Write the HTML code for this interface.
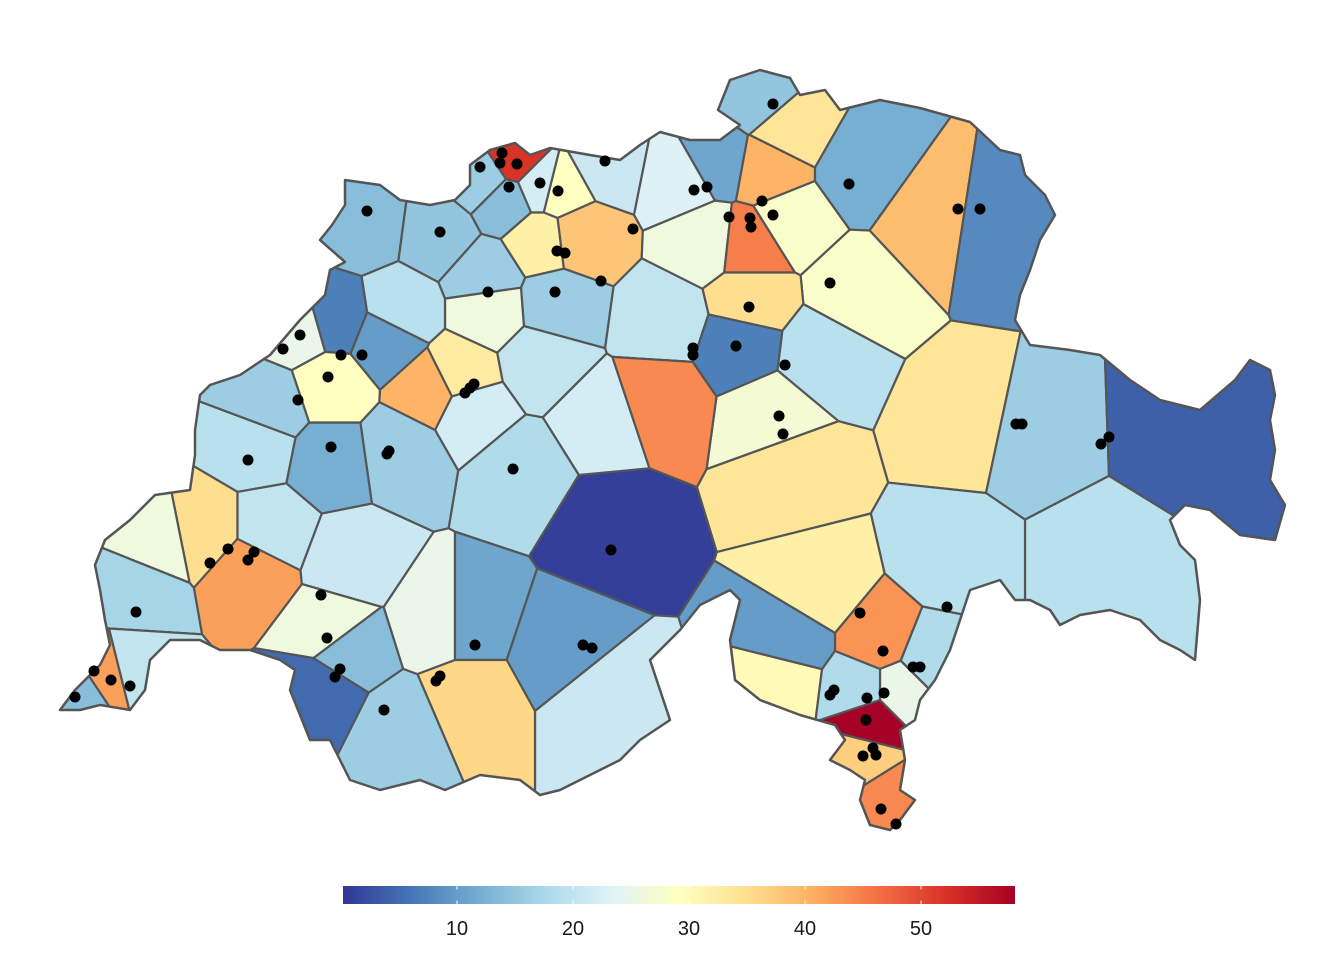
<!DOCTYPE html>
<html><head><meta charset="utf-8"><style>
body{margin:0;background:#fff;width:1344px;height:960px;overflow:hidden}
svg{display:block;font-family:"Liberation Sans",Arial,sans-serif}
</style></head><body>
<svg id="chart" width="1344" height="960">
<defs>
<linearGradient id="cbgrad" x1="0" x2="1" y1="0" y2="0">
<stop offset="0" stop-color="#313695"/><stop offset="0.1" stop-color="#4575b4"/><stop offset="0.2" stop-color="#74add1"/><stop offset="0.3" stop-color="#abd9e9"/><stop offset="0.4" stop-color="#e0f3f8"/><stop offset="0.5" stop-color="#ffffbf"/><stop offset="0.6" stop-color="#fee090"/><stop offset="0.7" stop-color="#fdae61"/><stop offset="0.8" stop-color="#f46d43"/><stop offset="0.9" stop-color="#d73027"/><stop offset="1" stop-color="#a50026"/>
</linearGradient>
<clipPath id="chclip"><polygon id="outlinePts"/></clipPath>
</defs>
<g id="cells" clip-path="url(#chclip)"></g>
<polygon id="outline" fill="none" stroke="#555" stroke-width="2.5" stroke-linejoin="round"/>
<g id="dots"></g>
<g id="colorbar"></g>
</svg>
<script>
// cell seeds (x, y) and values
const cellX=[365,440,485,505,485,515,540,560,540,580,555,490,400,605,680,715,705,770,750,790,790,760,860,930,995,855,750,665,740,820,770,660,790,965,1035,1180,1100,950,820,880,790,780,930,870,860,885,900,860,610,600,520,540,470,430,460,400,330,385,335,330,300,255,270,205,250,155,135,270,350,330,320,345,400,440,470,560,600,470,80,110,130];
const cellY=[225,235,275,200,180,160,185,190,240,235,305,310,310,165,180,160,240,170,245,220,130,95,170,220,230,290,300,320,345,355,415,400,470,420,435,430,560,560,590,640,640,680,660,720,760,800,690,690,525,420,470,360,410,390,375,450,460,340,320,385,330,445,405,530,570,540,590,530,560,630,690,650,730,620,620,650,700,700,695,675,670];
const cellVal=[14,15,16,14,16,52,22,29,32,38,16,26,19,21,23,11,26,40,45,28,34,15,12,39,8,28,35,20,7,19,27,44,34,34,16,4,19,19,32,43,10,30,18,58,37,44,25,18,1,22,18,20,22,40,33,16,12,10,7,29,25,19,16,35,42,26,17,20,21,26,5,14,16,25,11,10,21,36,14,42,20];
// observation points
const ptX=[367,440,488,509,480,502,500,517,540,558,605,633,557,565,555,601,694,707,729,750,751,762,773,773,849,958,980,830,749,785,736,693,693,779,783,1016,1022,1101,1109,947,860,883,913,920,834,830,867,884,866,873,876,863,881,896,611,583,592,513,465,470,474,389,387,331,298,328,341,362,300,283,248,210,228,254,248,136,321,327,340,335,384,475,440,436,75,94,111,130];
const ptY=[211,232,292,187,167,153,163,164,183,191,161,229,251,253,292,281,190,187,217,218,227,201,215,104,184,209,209,283,307,365,346,348,355,416,434,424,424,444,437,607,613,651,667,667,690,695,698,693,720,748,755,756,809,824,550,645,648,469,393,388,384,451,454,447,400,377,355,355,335,349,460,563,549,552,560,612,595,638,669,677,710,645,676,681,697,671,680,686];
const outline=[[60,710],[75,690],[100,665],[110,645],[105,620],[100,590],[95,565],[105,540],[130,520],[155,495],[190,490],[195,455],[195,430],[200,395],[210,385],[240,375],[270,355],[300,320],[325,295],[330,270],[345,262],[320,240],[332,225],[345,205],[345,180],[380,185],[400,200],[430,205],[455,200],[470,185],[470,165],[490,150],[515,143],[530,155],[550,148],[590,155],[620,160],[640,145],[660,132],[690,140],[720,140],[740,125],[718,110],[730,80],[760,70],[790,78],[800,95],[825,90],[840,110],[880,100],[920,108],[970,122],[1000,150],[1020,155],[1025,175],[1045,195],[1055,215],[1040,240],[1030,270],[1020,295],[1015,320],[1030,345],[1070,350],[1100,355],[1130,380],[1160,400],[1200,410],[1235,380],[1250,360],[1270,370],[1275,395],[1270,420],[1275,450],[1270,480],[1285,505],[1275,540],[1240,535],[1210,510],[1185,505],[1170,520],[1180,545],[1195,560],[1200,600],[1195,660],[1180,650],[1160,640],[1140,620],[1110,610],[1080,615],[1060,625],[1050,610],[1030,600],[1015,600],[1000,580],[970,590],[960,620],[950,650],[935,680],[920,700],[915,720],[900,730],[905,760],[900,790],[915,800],[900,820],[890,830],[870,825],[860,800],[865,780],[850,770],[830,760],[845,740],[835,725],[800,715],[760,700],[735,680],[730,640],[740,600],[730,590],[700,605],[680,630],[650,660],[660,690],[670,720],[640,740],[620,760],[590,775],[560,790],[540,795],[520,780],[480,775],[445,790],[420,780],[380,790],[350,780],[340,760],[330,740],[310,740],[300,715],[290,690],[295,670],[280,660],[250,650],[220,650],[200,640],[170,640],[150,660],[145,690],[130,710],[100,705],[80,710]];
const ticks=[10,20,30,40,50];
const vMin=0.17,vMax=58.1;
const cbX0=343,cbX1=1015,cbY=886,cbH=18;
const NS="http://www.w3.org/2000/svg";
const stops=["#313695","#4575b4","#74add1","#abd9e9","#e0f3f8","#ffffbf","#fee090","#fdae61","#f46d43","#d73027","#a50026"];
function hex(c){return [1,3,5].map(i=>parseInt(c.substr(i,2),16));}
function color(v){let t=Math.max(0,Math.min(1,(v-vMin)/(vMax-vMin)))*10;let i=Math.min(9,Math.floor(t)),f=t-i;let a=hex(stops[i]),b=hex(stops[i+1]);return "rgb("+a.map((x,k)=>Math.round(x+(b[k]-x)*f)).join(",")+")";}
function xScale(v){return cbX0+(v-vMin)/(vMax-vMin)*(cbX1-cbX0);}
const ptsStr=outline.map(p=>p.join(",")).join(" ");
document.getElementById("outlinePts").setAttribute("points",ptsStr);
document.getElementById("outline").setAttribute("points",ptsStr);
function clip(poly,ax,ay,bx,by){ // keep points closer to a than b
  const mx=(ax+bx)/2,my=(ay+by)/2,nx=bx-ax,ny=by-ay;
  const f=p=>(p[0]-mx)*nx+(p[1]-my)*ny;
  const out=[];
  for(let i=0;i<poly.length;i++){const p=poly[i],q=poly[(i+1)%poly.length];const fp=f(p),fq=f(q);
    if(fp<=0)out.push(p);
    if((fp<0&&fq>0)||(fp>0&&fq<0)){const t=fp/(fp-fq);out.push([p[0]+(q[0]-p[0])*t,p[1]+(q[1]-p[1])*t]);}}
  return out;}
const cg=document.getElementById("cells");
for(let i=0;i<cellX.length;i++){
  let poly=[[0,0],[1344,0],[1344,960],[0,960]];
  for(let j=0;j<cellX.length;j++){if(j===i)continue;poly=clip(poly,cellX[i],cellY[i],cellX[j],cellY[j]);if(!poly.length)break;}
  if(!poly.length)continue;
  const el=document.createElementNS(NS,"polygon");
  el.setAttribute("points",poly.map(p=>p[0].toFixed(1)+","+p[1].toFixed(1)).join(" "));
  el.setAttribute("fill",color(cellVal[i]));el.setAttribute("stroke","#555");el.setAttribute("stroke-width","2.2");el.setAttribute("stroke-linejoin","round");
  
  
  cg.appendChild(el);}
const dg=document.getElementById("dots");
for(let i=0;i<ptX.length;i++){const c=document.createElementNS(NS,"circle");c.setAttribute("cx",ptX[i]);c.setAttribute("cy",ptY[i]);c.setAttribute("r",5.5);c.setAttribute("fill","#000");
  
  
  dg.appendChild(c);}
const cb=document.getElementById("colorbar");
const r=document.createElementNS(NS,"rect");r.setAttribute("x",cbX0);r.setAttribute("y",cbY);r.setAttribute("width",cbX1-cbX0);r.setAttribute("height",cbH);r.setAttribute("fill","url(#cbgrad)");


cb.appendChild(r);
ticks.forEach(t=>{const x=xScale(t);
  [[cbY,cbY+3.5],[cbY+cbH-3.5,cbY+cbH]].forEach(([y1,y2])=>{const l=document.createElementNS(NS,"line");l.setAttribute("x1",x);l.setAttribute("x2",x);l.setAttribute("y1",y1);l.setAttribute("y2",y2);l.setAttribute("stroke","#fff");l.setAttribute("stroke-width","1");
    
    
    cb.appendChild(l);});
  const tx=document.createElementNS(NS,"text");tx.setAttribute("x",x);tx.setAttribute("y",935);tx.setAttribute("text-anchor","middle");tx.setAttribute("font-size","20");tx.setAttribute("fill","#1a1a1a");tx.textContent=t;
  
  
  cb.appendChild(tx);});
</script>
</body></html>
